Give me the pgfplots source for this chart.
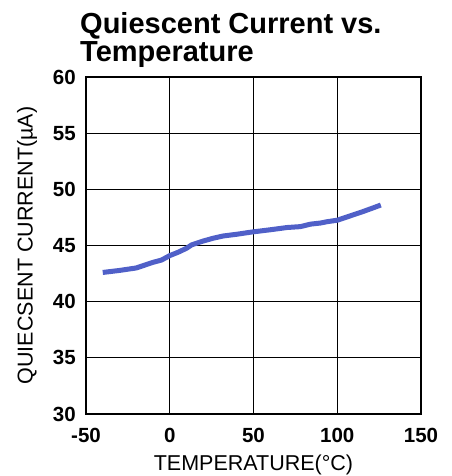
\documentclass[border=0pt]{standalone}
\usepackage{fontspec}
\setmainfont{Liberation Sans}
\usepackage{pgfplots}
\pgfplotsset{compat=1.18}
\definecolor{curve}{RGB}{80,96,200}
\begin{document}
\begin{tikzpicture}[x=1pt,y=1pt]
\path[use as bounding box] (0,0) rectangle (451,476);
\node[anchor=base west,inner sep=0pt,font=\fontsize{29}{29}\selectfont\bfseries] at (80,442.7) {Quiescent Current vs.};
\node[anchor=base west,inner sep=0pt,font=\fontsize{29}{29}\selectfont\bfseries] at (80,414.3) {Temperature};
\begin{axis}[at={(86pt,62pt)}, anchor=south west, scale only axis,
  width=335pt, height=337pt,
  xmin=-50, xmax=150, ymin=30, ymax=60,
  xtick={-50,0,50,100,150}, ytick={30,35,40,45,50,55,60},
  grid=major, major grid style={black, line width=1.1pt},
  axis line style={black, line width=1.8pt},
  tick style={draw=none},
  /pgf/number format/assume math mode=true,
  tick label style={font=\fontsize{20.5}{20.5}\selectfont\bfseries},
  yticklabel style={inner sep=0pt, anchor=east, xshift=-10pt},
  xticklabel style={inner sep=0pt, anchor=north, yshift=-14pt},
  xlabel={TEMPERATURE(°C)}, ylabel={QUIECSENT CURRENT(µA)},
  label style={font=\fontsize{21.5}{21.5}\selectfont},
  xlabel style={at={(axis description cs:0.5,-0.169)}, anchor=base, inner sep=0pt},
  ylabel style={at={(axis description cs:-0.176,0.5)}, anchor=center, inner sep=0pt},
]
\addplot[color=curve, line width=5pt, line join=round] coordinates {
(-40,42.6) (-30,42.78) (-20,43.0) (-10,43.5) (-5,43.7) (0,44.1) (5,44.4)
(10,44.75) (13,45.05) (20,45.4) (26,45.65) (32,45.85) (40,46.0) (49,46.2)
(60,46.4) (70,46.6) (78,46.68) (84,46.9) (90,47.0) (94,47.12) (100,47.25)
(106,47.55) (115,48.0) (126,48.6)
};
\end{axis}
\end{tikzpicture}
\end{document}
